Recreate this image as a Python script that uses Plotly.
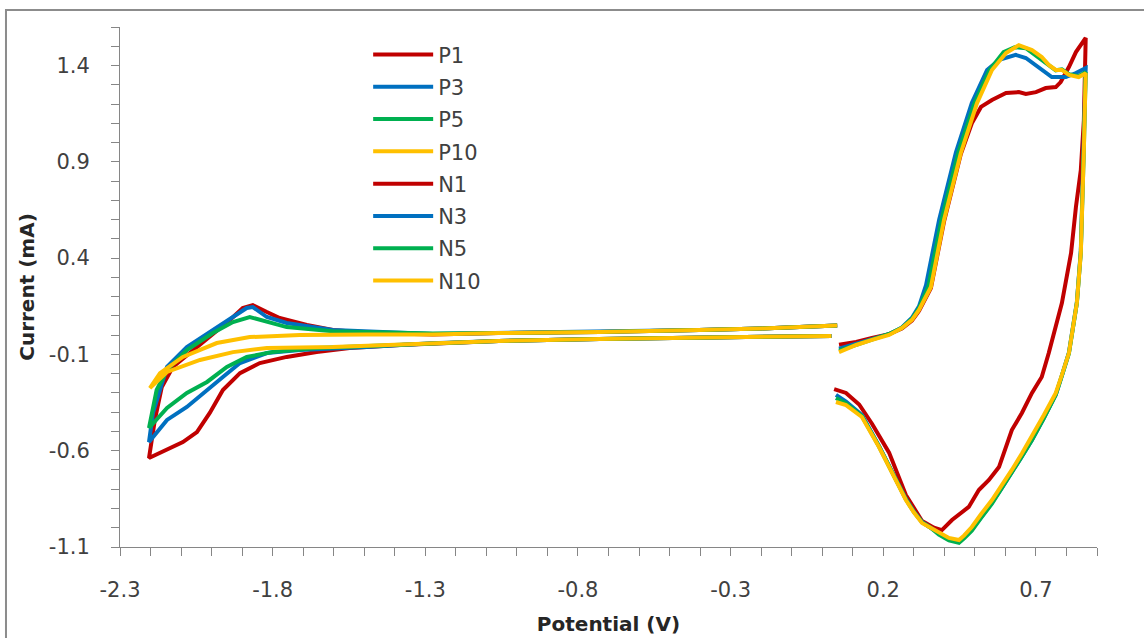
import plotly.graph_objects as go

# ---------------- data (potential V, current mA) ----------------
# P series: positive potential window (forward scan then reverse)
p1_v = [0.055, 0.111, 0.163, 0.219, 0.261, 0.294, 0.317, 0.356, 0.399, 0.454, 0.49, 0.52, 0.556, 0.602, 0.644, 0.667,
        0.70, 0.732, 0.765, 0.781, 0.808, 0.831, 0.863,
        0.857, 0.847, 0.831, 0.815, 0.785, 0.742, 0.719, 0.687, 0.654, 0.621, 0.602, 0.579, 0.546, 0.513, 0.48,
        0.448, 0.425, 0.392, 0.366, 0.327, 0.274, 0.219, 0.163, 0.121, 0.078, 0.039]
p1_i = [-0.05, -0.035, -0.015, 0.005, 0.035, 0.075, 0.125, 0.245, 0.59, 0.94, 1.10, 1.185, 1.221, 1.257, 1.262, 1.252,
        1.262, 1.283, 1.288, 1.314, 1.392, 1.47, 1.543,
        1.117, 0.857, 0.665, 0.426, 0.167, -0.093, -0.217, -0.30, -0.404, -0.493, -0.581, -0.685, -0.752, -0.804, -0.892,
        -0.934, -0.96, -1.012, -1.0, -0.965, -0.83, -0.61, -0.46, -0.36, -0.30, -0.28]

p3_v = [0.055, 0.111, 0.163, 0.219, 0.261, 0.294, 0.317, 0.34, 0.383, 0.438, 0.49, 0.54, 0.58, 0.602, 0.634, 0.667,
        0.71, 0.752, 0.798, 0.831, 0.863,
        0.857, 0.847, 0.834, 0.808, 0.785, 0.765, 0.726, 0.687, 0.654, 0.621, 0.588, 0.556, 0.52, 0.49, 0.465,
        0.448, 0.415, 0.382, 0.355, 0.327, 0.30, 0.274, 0.229, 0.186, 0.13, 0.078, 0.045]
p3_i = [-0.07, -0.045, -0.02, 0.005, 0.04, 0.09, 0.15, 0.26, 0.60, 0.95, 1.205, 1.377, 1.43, 1.44, 1.455, 1.439,
        1.392, 1.34, 1.34, 1.361, 1.387,
        0.98, 0.44, 0.17, -0.09, -0.21, -0.31, -0.43, -0.545, -0.63, -0.715, -0.795, -0.87, -0.945, -1.01, -1.05,
        -1.072, -1.06, -1.03, -1.0, -0.97, -0.915, -0.85, -0.71, -0.575, -0.415, -0.345, -0.31]

p5_v = [0.055, 0.111, 0.163, 0.219, 0.261, 0.294, 0.317, 0.348, 0.391, 0.446, 0.499, 0.548, 0.594, 0.63, 0.667,
        0.70, 0.742, 0.765, 0.785, 0.808, 0.84, 0.863,
        0.857, 0.847, 0.834, 0.808, 0.785, 0.765, 0.726, 0.687, 0.654, 0.621, 0.588, 0.556, 0.52, 0.49, 0.465,
        0.448, 0.415, 0.382, 0.355, 0.327, 0.30, 0.274, 0.229, 0.186, 0.13, 0.078, 0.045]
p5_i = [-0.08, -0.05, -0.022, 0.006, 0.038, 0.085, 0.14, 0.255, 0.60, 0.95, 1.205, 1.377, 1.47, 1.495, 1.49,
        1.45, 1.40, 1.375, 1.38, 1.355, 1.345, 1.365,
        0.97, 0.43, 0.165, -0.095, -0.21, -0.31, -0.43, -0.545, -0.63, -0.715, -0.80, -0.875, -0.95, -1.015, -1.055,
        -1.078, -1.065, -1.035, -1.0, -0.972, -0.918, -0.852, -0.712, -0.578, -0.42, -0.355, -0.326]

p10_v = [0.055, 0.111, 0.163, 0.219, 0.261, 0.294, 0.317, 0.356, 0.399, 0.454, 0.507, 0.556, 0.602, 0.644, 0.687,
         0.719, 0.742, 0.765, 0.785, 0.808, 0.84, 0.863,
         0.857, 0.847, 0.834, 0.808, 0.785, 0.765, 0.726, 0.687, 0.654, 0.621, 0.588, 0.556, 0.52, 0.49, 0.465,
         0.448, 0.415, 0.382, 0.355, 0.327, 0.30, 0.274, 0.229, 0.186, 0.13, 0.078, 0.045]
p10_i = [-0.088, -0.051, -0.025, 0.001, 0.037, 0.079, 0.131, 0.25, 0.598, 0.946, 1.205, 1.377, 1.465, 1.506, 1.48,
         1.444, 1.403, 1.377, 1.377, 1.351, 1.34, 1.36,
         0.961, 0.426, 0.167, -0.093, -0.207, -0.30, -0.415, -0.529, -0.615, -0.70, -0.78, -0.856, -0.93, -0.996, -1.04,
         -1.064, -1.053, -1.027, -1.0, -0.975, -0.92, -0.856, -0.716, -0.581, -0.425, -0.363, -0.347]

# N series: negative potential window (cathodic scan then return)
n1_v = [0.03, -0.2, -0.4, -0.73, -1.06, -1.28, -1.384, -1.548, -1.656, -1.754, -1.842, -1.907, -1.963, -2.006,
        -2.048, -2.094, -2.146, -2.205,
        -2.186, -2.163, -2.127, -2.071, -2.006, -1.94, -1.898, -1.865, -1.819, -1.777, -1.688, -1.603, -1.492,
        -1.276, -1.06, -0.73, -0.403, -0.2, 0.049]
n1_i = [-0.004, -0.008, -0.012, -0.02, -0.03, -0.042, -0.051, -0.067, -0.088, -0.113, -0.145, -0.197, -0.285, -0.404,
        -0.503, -0.555, -0.596, -0.638,
        -0.441, -0.269, -0.165, -0.093, -0.010, 0.079, 0.141, 0.156, 0.12, 0.089, 0.053, 0.027, 0.012,
        0.004, 0.011, 0.016, 0.027, 0.035, 0.05]

n3_v = [0.03, -0.4, -0.73, -1.06, -1.28, -1.492, -1.711, -1.819, -1.907, -1.963, -2.015, -2.081, -2.146, -2.205,
        -2.192, -2.146, -2.081, -1.996, -1.93, -1.885, -1.865, -1.819, -1.754, -1.603, -1.276, -1.06, -0.73, -0.403,
        -0.2, 0.049]
n3_i = [-0.004, -0.012, -0.02, -0.03, -0.042, -0.062, -0.077, -0.093, -0.145, -0.217, -0.285, -0.373, -0.44, -0.555,
        -0.404, -0.165, -0.062, 0.027, 0.094, 0.141, 0.146, 0.094, 0.063, 0.027, 0.006, 0.011, 0.016, 0.027,
        0.035, 0.05]

n5_v = [0.03, -0.4, -0.73, -1.06, -1.28, -1.656, -1.8, -1.885, -1.95, -2.015, -2.081, -2.146, -2.205,
        -2.18, -2.146, -2.081, -1.996, -1.93, -1.875, -1.819, -1.754, -1.603, -1.276, -1.06, -0.73, -0.403, -0.2,
        0.049]
n5_i = [-0.004, -0.012, -0.02, -0.03, -0.042, -0.067, -0.088, -0.113, -0.165, -0.243, -0.30, -0.378, -0.482,
        -0.285, -0.181, -0.077, 0.011, 0.068, 0.094, 0.068, 0.042, 0.02, 0.008, 0.011, 0.016, 0.027, 0.035,
        0.05]

n10_v = [0.03, -0.4, -0.73, -1.06, -1.28, -1.603, -1.819, -1.93, -2.038, -2.146, -2.202,
         -2.169, -2.094, -1.983, -1.875, -1.711, -1.492, -1.276, -1.06, -0.73, -0.403, -0.2, 0.049]
n10_i = [-0.004, -0.012, -0.02, -0.03, -0.042, -0.062, -0.067, -0.088, -0.129, -0.191, -0.275,
         -0.197, -0.113, -0.041, -0.01, 0.001, 0.004, 0.003, 0.011, 0.016, 0.027, 0.035, 0.05]

series_names = ["P1", "P3", "P5", "P10", "N1", "N3", "N5", "N10"]
series_v = [p1_v, p3_v, p5_v, p10_v, n1_v, n3_v, n5_v, n10_v]
series_i = [p1_i, p3_i, p5_i, p10_i, n1_i, n3_i, n5_i, n10_i]
series_colors = ["#C00000", "#0070C0", "#00B050", "#FFC000", "#C00000", "#0070C0", "#00B050", "#FFC000"]

x_tick_vals = [-2.3, -1.8, -1.3, -0.8, -0.3, 0.2, 0.7]
x_tick_text = ["-2.3", "-1.8", "-1.3", "-0.8", "-0.3", "0.2", "0.7"]
y_tick_vals = [-1.1, -0.6, -0.1, 0.4, 0.9, 1.4]
y_tick_text = ["-1.1", "-0.6", "-0.1", "0.4", "0.9", "1.4"]

FONT = "DejaVu Sans"
AXIS_GRAY = "#868686"
TEXT = "#404040"

fig = go.Figure()
for name, v, i, c in zip(series_names, series_v, series_i, series_colors):
    fig.add_trace(go.Scatter(x=v, y=i, mode="lines", name=name, legendgroup=name,
                             line=dict(color=c, width=4, shape="linear")))

axis_common = dict(showline=True, linecolor=AXIS_GRAY, linewidth=1, showgrid=False, zeroline=False,
                   ticks="outside", ticklen=8, tickcolor=AXIS_GRAY, tickwidth=1,
                   tickfont=dict(family=FONT, size=21, color=TEXT), tickmode="array")

fig.update_xaxes(range=[-2.3, 0.9], tickvals=x_tick_vals, ticktext=x_tick_text,
                 minor=dict(tickmode="linear", tick0=-2.3, dtick=0.1, ticks="outside", ticklen=8,
                            tickcolor=AXIS_GRAY, tickwidth=1, showgrid=False),
                 ticklabelstandoff=16,
                 title=dict(text="<b>Potential (V)</b>", standoff=15,
                            font=dict(family=FONT, size=20, color="#262626")),
                 **axis_common)
fig.update_yaxes(range=[-1.1, 1.6], tickvals=y_tick_vals, ticktext=y_tick_text,
                 minor=dict(tickmode="linear", tick0=-1.1, dtick=0.1, ticks="outside", ticklen=8,
                            tickcolor=AXIS_GRAY, tickwidth=1, showgrid=False),
                 ticklabelstandoff=17,
                 title=dict(text="<b>Current (mA)</b>", standoff=8,
                            font=dict(family=FONT, size=20, color="#262626")),
                 **axis_common)

fig.update_layout(
    width=1144, height=638,
    margin=dict(l=120, r=47, t=27, b=91, autoexpand=False),
    paper_bgcolor="white", plot_bgcolor="white",
    font=dict(family=FONT, size=21, color=TEXT),
    legend=dict(x=0.254, y=0.986, xanchor="left", yanchor="top", bgcolor="rgba(0,0,0,0)",
                font=dict(family=FONT, size=21, color=TEXT), tracegroupgap=2, itemwidth=60,
                traceorder="grouped"),
    shapes=[dict(type="rect", xref="paper", yref="paper", x0=-0.1167, y0=1.0327, x1=1.2, y1=-0.3,
                 line=dict(color="#8c8c8c", width=2), fillcolor="rgba(0,0,0,0)", layer="below")],
)

fig.write_html("out.html", config={"displayModeBar": False},
               post_script="document.body.style.margin='0';document.body.style.overflow='hidden';")
